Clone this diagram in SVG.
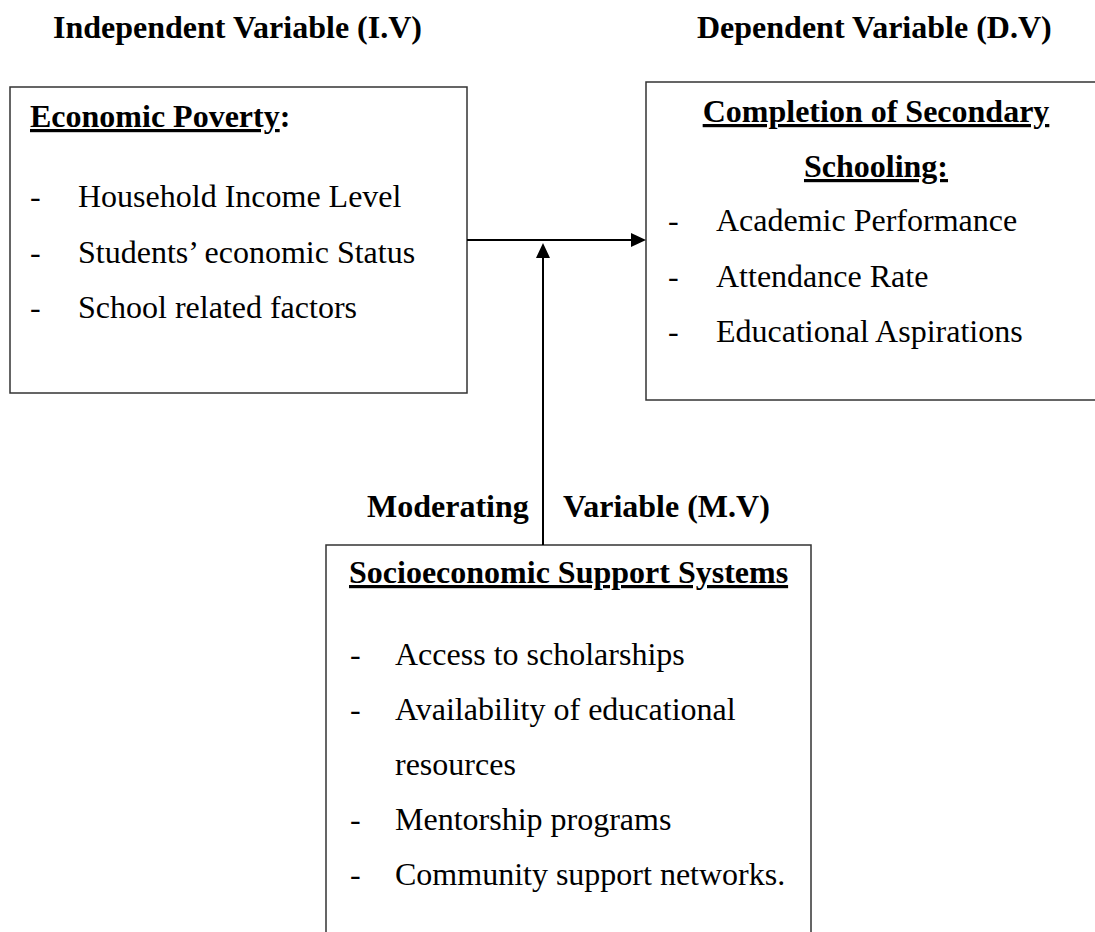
<svg xmlns="http://www.w3.org/2000/svg" width="1095" height="932" viewBox="0 0 1095 932">
<style>
  text { font-family: "Liberation Serif", "Times New Roman", serif; font-size: 32px; fill: #000; }
  .b { font-weight: bold; }
  .u { text-decoration: underline; }
  .box { fill: #fff; stroke: #333; stroke-width: 1.5; }
  .conn { stroke: #000; stroke-width: 2; fill: none; }
</style>
<defs>
  <marker id="ah" markerUnits="userSpaceOnUse" markerWidth="16" markerHeight="16" refX="9" refY="7" orient="auto">
    <path d="M0,0 L15,7 L0,14 z" fill="#000"/>
  </marker>
</defs>
<rect width="1095" height="932" fill="#fff"/>
<g id="titles">
  <text class="b" x="53" y="38">Independent Variable (I.V)</text>
  <text class="b" x="697" y="38">Dependent Variable (D.V)</text>
</g>
<g id="iv">
  <rect class="box" x="10" y="87" width="457" height="306"/>
  <text class="b" x="30" y="127"><tspan class="u">Economic Poverty</tspan>:</text>
  <text x="30" y="207">-</text><text x="78" y="207">Household Income Level</text>
  <text x="30" y="263">-</text><text x="78" y="263">Students’ economic Status</text>
  <text x="30" y="318">-</text><text x="78" y="318">School related factors</text>
</g>
<g id="dv">
  <rect class="box" x="646" y="82" width="470" height="318"/>
  <text class="b u" x="876" y="122" text-anchor="middle">Completion of Secondary</text>
  <text class="b u" x="876" y="177" text-anchor="middle">Schooling:</text>
  <text x="668" y="231">-</text><text x="716" y="231">Academic Performance</text>
  <text x="668" y="287">-</text><text x="716" y="287">Attendance Rate</text>
  <text x="668" y="342">-</text><text x="716" y="342">Educational Aspirations</text>
</g>
<g id="mv">
  <text class="b" x="367" y="517">Moderating</text>
  <text class="b" x="563" y="517">Variable (M.V)</text>
  <rect class="box" x="326" y="545" width="485" height="420"/>
  <text class="b u" x="349" y="583">Socioeconomic Support Systems</text>
  <text x="350" y="665">-</text><text x="395" y="665">Access to scholarships</text>
  <text x="350" y="720">-</text><text x="395" y="720">Availability of educational</text>
  <text x="395" y="775">resources</text>
  <text x="350" y="830">-</text><text x="395" y="830">Mentorship programs</text>
  <text x="350" y="885">-</text><text x="395" y="885">Community support networks.</text>
</g>
<g id="connectors">
  <line class="conn" x1="467" y1="240" x2="640" y2="240" marker-end="url(#ah)"/>
  <line class="conn" x1="543" y1="545" x2="543" y2="249" marker-end="url(#ah)"/>
</g>
</svg>
